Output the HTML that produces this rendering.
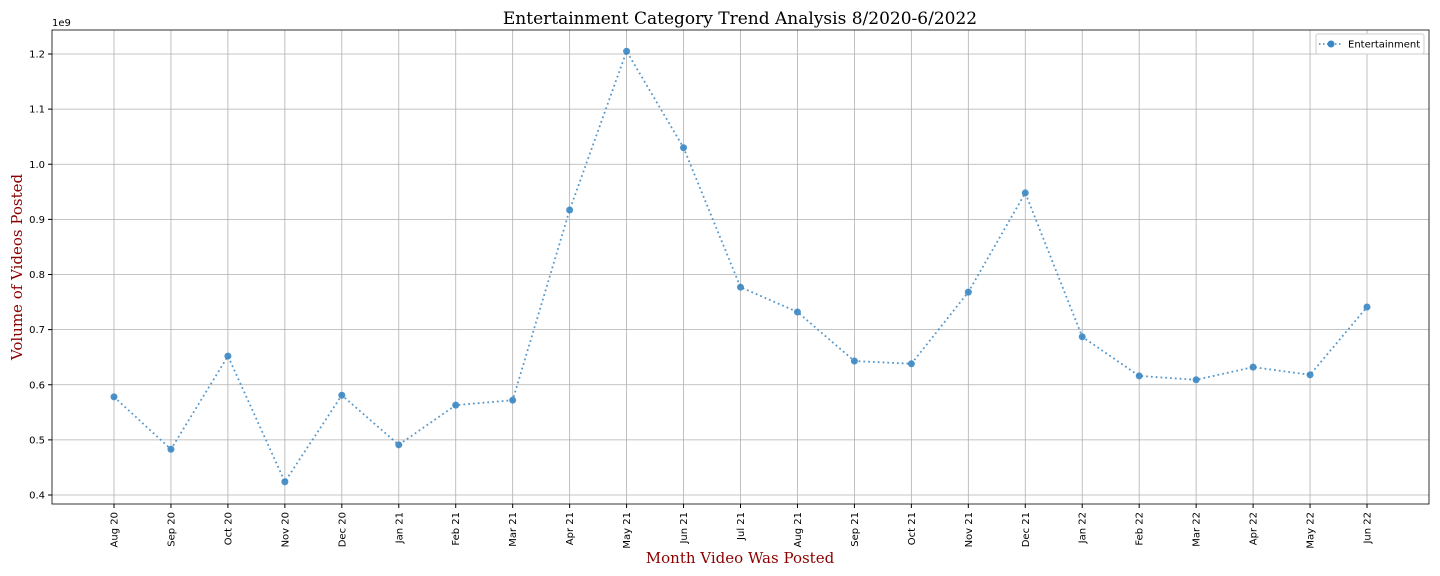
<!DOCTYPE html>
<html><head><meta charset="utf-8"><style>
html,body{margin:0;padding:0;background:#fff;}
svg{display:block;font-family:"DejaVu Sans","Liberation Sans",sans-serif;}
</style></head><body>
<svg id="chart" width="1440" height="576">
<text x="740" y="24" text-anchor="middle" font-family="DejaVu Serif,Liberation Serif,serif" font-size="17">Entertainment Category Trend Analysis 8/2020-6/2022</text>
<text x="740" y="563" text-anchor="middle" font-family="DejaVu Serif,Liberation Serif,serif" font-size="15" fill="#8b0000">Month Video Was Posted</text>
<text transform="translate(22,267) rotate(-90)" text-anchor="middle" font-family="DejaVu Serif,Liberation Serif,serif" font-size="15" fill="#8b0000">Volume of Videos Posted</text>
<text x="52" y="26" font-size="10">1e9</text>
<g id="grid"></g><g id="axes"></g><g id="series"></g>
<g>
<rect x="1316" y="34" width="108" height="20" fill="#fff" stroke="#ccc" rx="2"/>
<line x1="1319" y1="44" x2="1343" y2="44" stroke="#3a87c3" stroke-width="1.5" stroke-dasharray="1.5,2.5"/>
<circle cx="1331" cy="44" r="3.5" fill="#3a87c3"/>
<text x="1348" y="47.5" font-size="10">Entertainment</text>
</g>
</svg>
<script>
const categories=["Aug 20","Sep 20","Oct 20","Nov 20","Dec 20","Jan 21","Feb 21","Mar 21","Apr 21","May 21","Jun 21","Jul 21","Aug 21","Sep 21","Oct 21","Nov 21","Dec 21","Jan 22","Feb 22","Mar 22","Apr 22","May 22","Jun 22"];
const values=[0.578,0.483,0.652,0.424,0.581,0.491,0.563,0.572,0.917,1.205,1.030,0.777,0.732,0.643,0.638,0.768,0.948,0.687,0.616,0.609,0.632,0.618,0.741];
const yTicks=[0.4,0.5,0.6,0.7,0.8,0.9,1.0,1.1,1.2];
const L=52,R=1429,T=30,B=504;
const NS="http://www.w3.org/2000/svg";
const step=(1367-114)/(categories.length-1);
function xs(i){return 114+i*step;}
function ys(v){return 495-(v-0.4)*551.25;}
function mk(t,a,p){const e=document.createElementNS(NS,t);for(const k in a)e.setAttribute(k,a[k]);p.appendChild(e);return e;}
const grid=document.getElementById('grid'),axes=document.getElementById('axes'),ser=document.getElementById('series');
yTicks.forEach(v=>{const y=ys(v);
const g=mk('line',{x1:L,x2:R,y1:y,y2:y,stroke:'#b0b0b0','stroke-width':0.8},grid);


mk('line',{x1:L-4,x2:L,y1:y,y2:y,stroke:'#000'},axes);
const t=mk('text',{x:L-7,y:y+3.5,'text-anchor':'end','font-size':10},axes);t.textContent=v.toFixed(1);

});
categories.forEach((c,i)=>{const x=xs(i);
const g=mk('line',{x1:x,x2:x,y1:T,y2:B,stroke:'#b0b0b0','stroke-width':0.8},grid);


mk('line',{x1:x,x2:x,y1:B,y2:B+4,stroke:'#000'},axes);
const t=mk('text',{transform:`translate(${x+3.5},${B+8}) rotate(-90)`,'text-anchor':'end','font-size':10},axes);t.textContent=c;

});
mk('rect',{x:L,y:T,width:R-L,height:B-T,fill:'none',stroke:'#000','stroke-width':0.8},axes);
const pts=values.map((v,i)=>xs(i)+','+ys(v)).join(' ');
const pl=mk('polyline',{points:pts,fill:'none',stroke:'#3a87c3','stroke-width':1.8,'stroke-dasharray':'1.8,3','stroke-opacity':0.85},ser);


values.forEach((v,i)=>{const c=mk('circle',{cx:xs(i),cy:ys(v),r:3.5,fill:'#3a87c3','fill-opacity':0.9},ser);

});
</script>
</body></html>
